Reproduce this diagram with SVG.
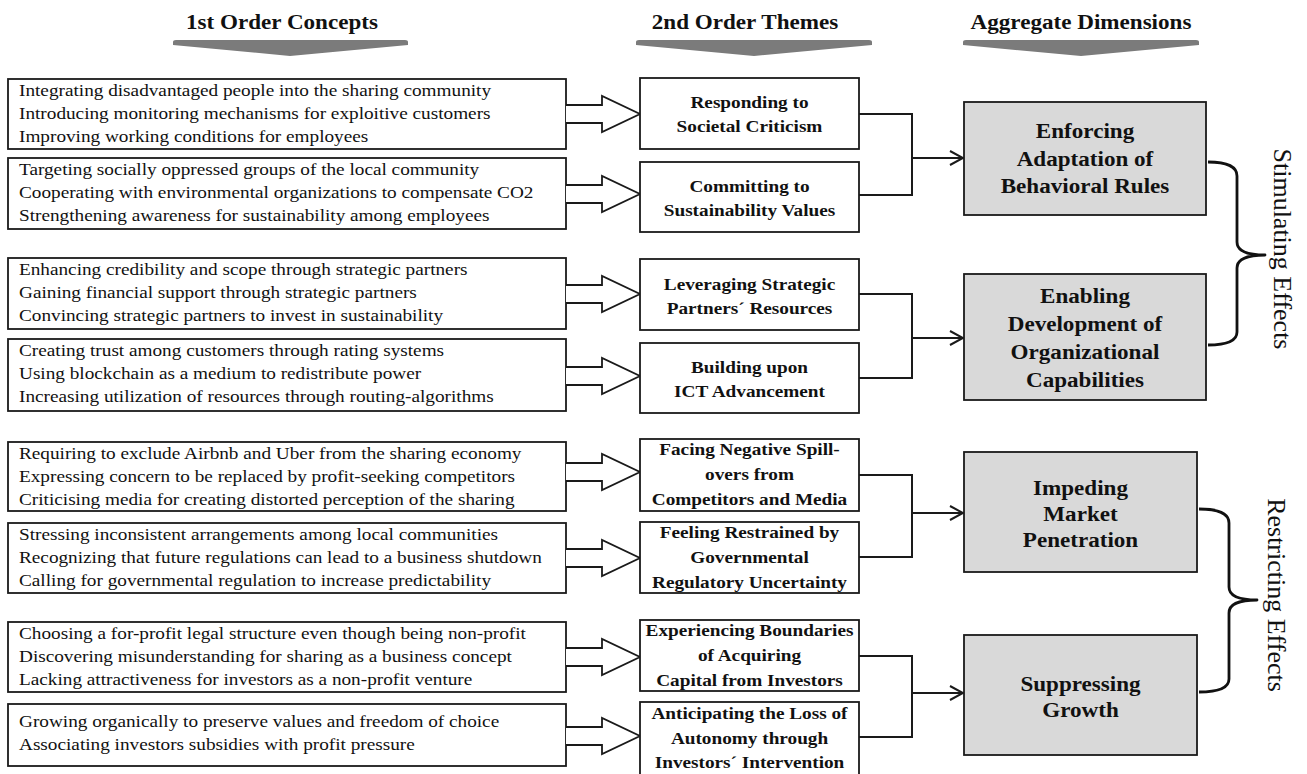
<svg xmlns="http://www.w3.org/2000/svg" width="1307" height="774" viewBox="0 0 1307 774">
<defs>
<style>
.bx{fill:#fff;stroke:#1a1a1a;stroke-width:1.8}
.rb{fill:#d9d9d9;stroke:#1a1a1a;stroke-width:1.8}
.ba{fill:#fff;stroke:#1a1a1a;stroke-width:1.8;stroke-linejoin:miter}
.ln{fill:none;stroke:#1a1a1a;stroke-width:2}
.br{fill:none;stroke:#111;stroke-width:2.8;stroke-linejoin:round}
.hd{fill:#7b7b7b}
.lt{font-family:"Liberation Serif","Times New Roman",serif;font-size:17.5px;fill:#111}
.mt{font-family:"Liberation Serif","Times New Roman",serif;font-size:17.5px;font-weight:bold;fill:#111;text-anchor:middle}
.rt{font-family:"Liberation Serif","Times New Roman",serif;font-size:21px;font-weight:bold;fill:#111;text-anchor:middle}
.ht{font-family:"Liberation Serif","Times New Roman",serif;font-size:21px;font-weight:bold;fill:#111;text-anchor:middle}
.vt{font-family:"Liberation Serif","Times New Roman",serif;font-size:26px;fill:#111;text-anchor:middle}
</style>
<marker id="ah" markerWidth="16" markerHeight="16" refX="14" refY="8" orient="auto" markerUnits="userSpaceOnUse">
<path d="M1,1 L14,8 L1,15" fill="none" stroke="#1a1a1a" stroke-width="2"/>
</marker>
</defs>
<rect width="1307" height="774" fill="#fff"/>

<g id="headers">
<g transform="translate(282,29) scale(1.1,1)"><text class="ht" x="0" y="0">1st Order Concepts</text></g>
<g transform="translate(745,29) scale(1.1,1)"><text class="ht" x="0" y="0">2nd Order Themes</text></g>
<g transform="translate(1081,29) scale(1.1,1)"><text class="ht" x="0" y="0">Aggregate Dimensions</text></g>
<path class="hd" d="M173,42 Q173,40 176,40 L405,40 Q408,40 408,42 L408,45 L290,56 L173,45 Z"/>
<path class="hd" d="M636,42 Q636,40 639,40 L869,40 Q872,40 872,42 L872,45 L754,56 L636,45 Z"/>
<path class="hd" d="M963,42 Q963,40 966,40 L1196,40 Q1199,40 1199,42 L1199,45 L1081,56 L963,45 Z"/>
</g>

<g id="concept1">
<rect class="bx" x="8" y="79" width="558" height="70"/>
<g transform="translate(19,0) scale(1.1,1)" class="lt">
<text x="0" y="96">Integrating disadvantaged people into the sharing community</text>
<text x="0" y="119">Introducing monitoring mechanisms for exploitive customers</text>
<text x="0" y="142">Improving working conditions for employees</text>
</g>
</g>
<g id="concept2">
<rect class="bx" x="8" y="158" width="558" height="71"/>
<g transform="translate(19,0) scale(1.1,1)" class="lt">
<text x="0" y="175">Targeting socially oppressed groups of the local community</text>
<text x="0" y="198">Cooperating with environmental organizations to compensate CO2</text>
<text x="0" y="221">Strengthening awareness for sustainability among employees</text>
</g>
</g>
<g id="concept3">
<rect class="bx" x="8" y="258" width="558" height="71"/>
<g transform="translate(19,0) scale(1.1,1)" class="lt">
<text x="0" y="275">Enhancing credibility and scope through strategic partners</text>
<text x="0" y="298">Gaining financial support through strategic partners</text>
<text x="0" y="321">Convincing strategic partners to invest in sustainability</text>
</g>
</g>
<g id="concept4">
<rect class="bx" x="8" y="339" width="558" height="72"/>
<g transform="translate(19,0) scale(1.1,1)" class="lt">
<text x="0" y="356">Creating trust among customers through rating systems</text>
<text x="0" y="379">Using blockchain as a medium to redistribute power</text>
<text x="0" y="402">Increasing utilization of resources through routing-algorithms</text>
</g>
</g>
<g id="concept5">
<rect class="bx" x="8" y="442" width="558" height="69"/>
<g transform="translate(19,0) scale(1.1,1)" class="lt">
<text x="0" y="459">Requiring to exclude Airbnb and Uber from the sharing economy</text>
<text x="0" y="482">Expressing concern to be replaced by profit-seeking competitors</text>
<text x="0" y="505">Criticising media for creating distorted perception of the sharing</text>
</g>
</g>
<g id="concept6">
<rect class="bx" x="8" y="523" width="558" height="70"/>
<g transform="translate(19,0) scale(1.1,1)" class="lt">
<text x="0" y="540">Stressing inconsistent arrangements among local communities</text>
<text x="0" y="563">Recognizing that future regulations can lead to a business shutdown</text>
<text x="0" y="586">Calling for governmental regulation to increase predictability</text>
</g>
</g>
<g id="concept7">
<rect class="bx" x="8" y="622" width="558" height="70"/>
<g transform="translate(19,0) scale(1.1,1)" class="lt">
<text x="0" y="639">Choosing a for-profit legal structure even though being non-profit</text>
<text x="0" y="662">Discovering misunderstanding for sharing as a business concept</text>
<text x="0" y="685">Lacking attractiveness for investors as a non-profit venture</text>
</g>
</g>
<g id="concept8">
<rect class="bx" x="8" y="704" width="558" height="62"/>
<g transform="translate(19,0) scale(1.1,1)" class="lt">
<text x="0" y="727">Growing organically to preserve values and freedom of choice</text>
<text x="0" y="750">Associating investors subsidies with profit pressure</text>
</g>
</g>

<g id="block-arrows">
<path class="ba" d="M566,105 L602,105 L602,96 L640,114 L602,132 L602,123 L566,123"/>
<path class="ba" d="M566,185 L602,185 L602,176 L640,194 L602,212 L602,203 L566,203"/>
<path class="ba" d="M566,285 L602,285 L602,276 L640,294 L602,312 L602,303 L566,303"/>
<path class="ba" d="M566,367 L602,367 L602,358 L640,376 L602,394 L602,385 L566,385"/>
<path class="ba" d="M566,463 L602,463 L602,454 L640,472 L602,490 L602,481 L566,481"/>
<path class="ba" d="M566,549 L602,549 L602,540 L640,558 L602,576 L602,567 L566,567"/>
<path class="ba" d="M566,648 L602,648 L602,639 L640,657 L602,675 L602,666 L566,666"/>
<path class="ba" d="M566,727 L602,727 L602,718 L640,736 L602,754 L602,745 L566,745"/>
</g>

<g id="theme1">
<rect class="bx" x="640" y="78" width="219" height="71"/>
<g transform="translate(749.5,0) scale(1.1,1)" class="mt"><text x="0" y="108">Responding to</text><text x="0" y="132">Societal Criticism</text></g>
</g>
<g id="theme2">
<rect class="bx" x="640" y="162" width="219" height="70"/>
<g transform="translate(749.5,0) scale(1.1,1)" class="mt"><text x="0" y="192">Committing to</text><text x="0" y="216">Sustainability Values</text></g>
</g>
<g id="theme3">
<rect class="bx" x="640" y="259" width="219" height="71"/>
<g transform="translate(749.5,0) scale(1.1,1)" class="mt"><text x="0" y="290">Leveraging Strategic</text><text x="0" y="314">Partners´ Resources</text></g>
</g>
<g id="theme4">
<rect class="bx" x="640" y="343" width="219" height="70"/>
<g transform="translate(749.5,0) scale(1.1,1)" class="mt"><text x="0" y="373">Building upon</text><text x="0" y="397">ICT Advancement</text></g>
</g>
<g id="theme5">
<rect class="bx" x="640" y="439" width="219" height="72"/>
<g transform="translate(749.5,0) scale(1.1,1)" class="mt"><text x="0" y="455">Facing Negative Spill-</text><text x="0" y="480">overs from</text><text x="0" y="505">Competitors and Media</text></g>
</g>
<g id="theme6">
<rect class="bx" x="640" y="522" width="219" height="71"/>
<g transform="translate(749.5,0) scale(1.1,1)" class="mt"><text x="0" y="538">Feeling Restrained by</text><text x="0" y="563">Governmental</text><text x="0" y="588">Regulatory Uncertainty</text></g>
</g>
<g id="theme7">
<rect class="bx" x="640" y="620" width="219" height="71"/>
<g transform="translate(749.5,0) scale(1.1,1)" class="mt"><text x="0" y="636">Experiencing Boundaries</text><text x="0" y="661">of Acquiring</text><text x="0" y="686">Capital from Investors</text></g>
</g>
<g id="theme8">
<rect class="bx" x="640" y="702" width="219" height="76"/>
<g transform="translate(749.5,0) scale(1.1,1)" class="mt"><text x="0" y="719">Anticipating the Loss of</text><text x="0" y="744">Autonomy through</text><text x="0" y="768">Investors´ Intervention</text></g>
</g>

<g id="connectors">
<path class="ln" d="M859,114 H912 V195 H859"/>
<path class="ln" d="M912,158 H963" marker-end="url(#ah)"/>
<path class="ln" d="M859,294 H912 V378 H859"/>
<path class="ln" d="M912,338 H963" marker-end="url(#ah)"/>
<path class="ln" d="M859,475 H912 V557 H859"/>
<path class="ln" d="M912,513 H963" marker-end="url(#ah)"/>
<path class="ln" d="M859,656 H912 V737 H859"/>
<path class="ln" d="M912,693 H963" marker-end="url(#ah)"/>
</g>

<g id="dimension1">
<rect class="rb" x="964" y="102" width="242" height="113"/>
<g transform="translate(1085,0) scale(1.1,1)" class="rt"><text x="0" y="138">Enforcing</text><text x="0" y="166">Adaptation of</text><text x="0" y="193">Behavioral Rules</text></g>
</g>
<g id="dimension2">
<rect class="rb" x="964" y="274" width="242" height="126"/>
<g transform="translate(1085,0) scale(1.1,1)" class="rt"><text x="0" y="303">Enabling</text><text x="0" y="331">Development of</text><text x="0" y="359">Organizational</text><text x="0" y="387">Capabilities</text></g>
</g>
<g id="dimension3">
<rect class="rb" x="964" y="452" width="233" height="120"/>
<g transform="translate(1080.5,0) scale(1.1,1)" class="rt"><text x="0" y="495">Impeding</text><text x="0" y="521">Market</text><text x="0" y="547">Penetration</text></g>
</g>
<g id="dimension4">
<rect class="rb" x="964" y="635" width="233" height="120"/>
<g transform="translate(1080.5,0) scale(1.1,1)" class="rt"><text x="0" y="691">Suppressing</text><text x="0" y="717">Growth</text></g>
</g>

<g id="stimulating-effects">
<path class="br" d="M1208,162 Q1237,162 1237,176 L1237,242 Q1237,255 1265,255 Q1237,255 1237,268 L1237,332 Q1237,345 1208,345"/>
<text class="vt" transform="translate(1274,249) rotate(90)" x="0" y="0">Stimulating  Effects</text>
</g>
<g id="restricting-effects">
<path class="br" d="M1199,509 Q1229,509 1229,523 L1229,587 Q1229,600 1257,600 Q1229,600 1229,613 L1229,679 Q1229,692 1199,692"/>
<text class="vt" transform="translate(1268,595) rotate(90)" x="0" y="0">Restricting  Effects</text>
</g>
</svg>
